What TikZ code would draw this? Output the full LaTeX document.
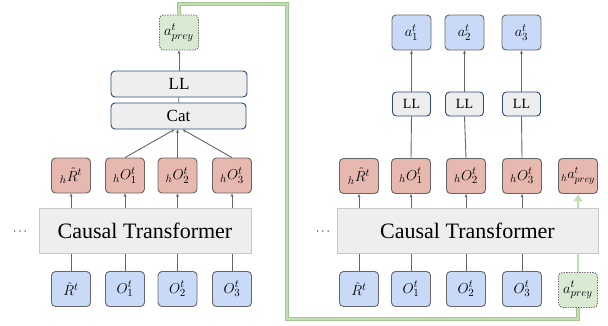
\documentclass[tikz,border=0pt]{standalone}
\usepackage{fontspec}
\setmainfont{Liberation Serif}
\usetikzlibrary{arrows.meta}
\definecolor{bluefill}{HTML}{C9DAF8}
\definecolor{redfill}{HTML}{E6B8AF}
\definecolor{greenfill}{HTML}{D9EAD3}
\definecolor{grayfill}{HTML}{EEEEEE}
\definecolor{boxedge}{HTML}{666666}
\definecolor{lledge}{HTML}{2B4A7A}
\definecolor{greenline}{HTML}{C3DFB2}
\definecolor{greenedge}{HTML}{A3C891}
\definecolor{arrowgray}{HTML}{666666}
\tikzset{
  tok/.style={draw=boxedge, line width=0.9pt, rounded corners=4pt, minimum width=39pt, minimum height=35pt, inner sep=0pt, font=\fontsize{15}{17}\selectfont},
  inbox/.style={tok, fill=bluefill},
  hbox/.style={tok, fill=redfill},
  pbox/.style={tok, fill=greenfill, dashed, dash pattern=on 1.3pt off 1.3pt},
  llbox/.style={draw=lledge, line width=0.9pt, fill=grayfill, rounded corners=4pt, inner sep=0pt},
  tfbox/.style={draw=black!22, line width=0.5pt, fill=grayfill, minimum height=45pt, inner sep=0pt, font=\fontsize{22}{24}\selectfont},
  conn/.style={draw=arrowgray, line width=0.9pt},
  arr/.style={conn, -{Stealth[length=3.5pt,width=3pt]}},
  gpath/.style={draw=greenedge, line width=0.6pt, double=greenline, double distance=2.2pt},
}
\begin{document}
\begin{tikzpicture}[x=1pt,y=-1pt]
\useasboundingbox (0,0) rectangle (608,325);
% ---------- left panel ----------
\node[inbox] (lb0) at (71,289) {$\hat{R}^t$};
\node[inbox] (lb1) at (125,289) {$O^t_1$};
\node[inbox] (lb2) at (177.5,289) {$O^t_2$};
\node[inbox] (lb3) at (232,289) {$O^t_3$};
\node[hbox] (lr0) at (71,175.5) {${}_h\hat{R}^t$};
\node[hbox] (lr1) at (125,175.5) {${}_hO^t_1$};
\node[hbox] (lr2) at (177.5,175.5) {${}_hO^t_2$};
\node[hbox] (lr3) at (232,175.5) {${}_hO^t_3$};
\foreach \i in {0,1,2,3} \draw[arr] (lb\i) -- (lr\i);
\node[tfbox, minimum width=212pt] (ltf) at (145,230.5) {Causal Transformer};
\node[font=\large] (ldots) at (20,232) {$\cdots$};
\node[llbox, minimum width=135pt, minimum height=26pt, font=\fontsize{17}{19}\selectfont] (cat) at (178.5,116) {Cat};
\node[llbox, minimum width=136pt, minimum height=26pt, font=\fontsize{17}{19}\selectfont] (lll) at (179,84) {LL};
\node[pbox] (lap) at (179,32.5) {$a^t_{prey}$};
\draw[arr] (lr1.north) -- ([xshift=-4pt]cat.south);
\draw[arr] (lr2.north) -- (cat.south -| lr2.north);
\draw[arr] (lr3.north) -- ([xshift=4pt]cat.south);
\draw[conn] (cat) -- (lll);
\draw[arr] (lll) -- (lap);
% ---------- right panel ----------
\node[inbox] (rb0) at (359,289) {$\hat{R}^t$};
\node[inbox] (rb1) at (411,289) {$O^t_1$};
\node[inbox] (rb2) at (466,289) {$O^t_2$};
\node[inbox] (rb3) at (522,289) {$O^t_3$};
\node[pbox] (rap) at (578,290) {$a^t_{prey}$};
\node[hbox] (rr0) at (359,176) {${}_h\hat{R}^t$};
\node[hbox] (rr1) at (411,176) {${}_hO^t_1$};
\node[hbox] (rr2) at (466,176) {${}_hO^t_2$};
\node[hbox] (rr3) at (522,176) {${}_hO^t_3$};
\node[hbox, font=\fontsize{14}{16}\selectfont] (rrp) at (578,176) {${}_ha^t_{prey}$};
\foreach \i in {0,1,2,3} \draw[arr] (rb\i) -- (rr\i);
\draw[draw=greenline, line width=2.6pt, -{Triangle[length=7pt,width=9pt]}, shorten >=0.5pt] (rap) -- (rrp);
\node[tfbox, minimum width=261pt] (rtf) at (467.5,230.5) {Causal Transformer};
\node[font=\large] (rdots) at (323,232) {$\cdots$};
\foreach \i/\x in {1/411.5,2/464.5,3/521.5} {
  \node[llbox, minimum width=38pt, minimum height=24pt, font=\fontsize{14}{16}\selectfont] (ll\i) at (\x,104) {LL};
  \node[inbox] (ra\i) at (\x,32.5) {$a^t_{\i}$};
  \draw[conn] (rr\i.north) -- (ll\i.south);
  \draw[arr] (ll\i) -- (ra\i);
}
% ---------- green feedback path ----------
\coordinate (g1) at (179,4);
\coordinate (g2) at (287,4);
\coordinate (g3) at (287,319);
\coordinate (g4) at (578,319);
\draw[gpath] (lap.north) -- (g1) -- (g2) -- (g3) -- (g4) -- (rap.south);
\end{tikzpicture}
\end{document}
